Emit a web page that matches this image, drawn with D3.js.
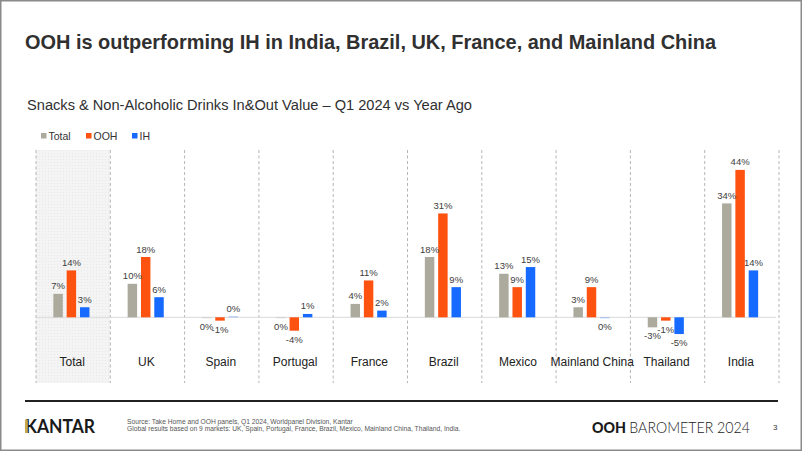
<!DOCTYPE html>
<html><head><meta charset="utf-8">
<script src="https://cdn.jsdelivr.net/npm/d3@7"></script>
<style>
html,body{margin:0;padding:0;background:#fff;}
svg{display:block;font-family:"Liberation Sans",Arial,sans-serif;}
</style></head>
<body>
<svg id="c" width="802" height="451"></svg>
<script>
const categories = ["Total","UK","Spain","Portugal","France","Brazil","Mexico","Mainland China","Thailand","India"];
const seriesNames = ["Total","OOH","IH"];
const totalValues = [7, 10, -0.3, -0.3, 4, 18, 13, 3, -3, 34];
const oohValues   = [14, 18, -1, -4, 11, 31, 9, 9, -1, 44];
const ihValues    = [3, 6, 0.3, 1, 2, 9, 15, -0.3, -5, 14];
const labelTotal = ["7%","10%","0%","0%","4%","18%","13%","3%","-3%","34%"];
const labelOOH   = ["14%","18%","-1%","-4%","11%","31%","9%","9%","-1%","44%"];
const labelIH    = ["3%","6%","0%","1%","2%","9%","15%","0%","-5%","14%"];
const colors = {"Total":"#abaa9d","OOH":"#fe5210","IH":"#176aff"};

const svg = d3.select("#c");
svg.append("rect").attr("x",0.75).attr("y",0.75).attr("width",800.5).attr("height",449.5)
  .attr("fill","#fff").attr("stroke","#8a8a8a").attr("stroke-width",1.5);

svg.append("text").attr("x",25).attr("y",49).attr("font-size",20.5).attr("font-weight","bold")
  .attr("fill","#303030").attr("textLength",691).attr("lengthAdjust","spacingAndGlyphs")
  .text("OOH is outperforming IH in India, Brazil, UK, France, and Mainland China");
svg.append("text").attr("x",27).attr("y",110).attr("font-size",15.5).attr("fill","#303030")
  .attr("textLength",445).attr("lengthAdjust","spacingAndGlyphs")
  .text("Snacks & Non-Alcoholic Drinks In&Out Value – Q1 2024 vs Year Ago");

const leg = svg.append("g");
const legX = [41, 86, 132];
seriesNames.forEach((s,i)=>{
  leg.append("rect").attr("x",legX[i]).attr("y",133).attr("width",5.5).attr("height",5.5).attr("fill",colors[s]);
  leg.append("text").attr("x",legX[i]+7.5).attr("y",139.5).attr("font-size",10.5).attr("fill","#333").text(s);
});

const x = d3.scaleBand().domain(categories).range([36, 779]).padding(0);
const y = d3.scaleLinear().domain([-10, 50]).range([350.8, 149.8]);
const x1 = d3.scaleBand().domain(seriesNames).range([-19.8, 16.3]).paddingInner(0.29);

const defs = svg.append("defs");
const pat = defs.append("pattern").attr("id","hatch").attr("width",3).attr("height",3).attr("patternUnits","userSpaceOnUse");
pat.append("rect").attr("width",3).attr("height",3).attr("fill","#f4f4f4");
pat.append("rect").attr("width",1).attr("height",1).attr("fill","#e8e8e8");

svg.append("rect").attr("x",x("Total")).attr("y",150).attr("width",x.bandwidth()).attr("height",233).attr("fill","url(#hatch)");

const edges = categories.map(c=>x(c)).concat([x(categories[categories.length-1])+x.bandwidth()]);
svg.append("g").selectAll("line").data(edges).join("line")
  .attr("x1",d=>d).attr("x2",d=>d).attr("y1",150).attr("y2",383)
  .attr("stroke","#b5b5b5").attr("stroke-width",1).attr("stroke-dasharray","3,2.5");

svg.append("line").attr("x1",36).attr("x2",776).attr("y1",y(0)).attr("y2",y(0))
  .attr("stroke","#d9d9d9").attr("stroke-width",1);

const data = categories.map((c,i)=>({cat:c, vals:[
  {s:"Total", v:totalValues[i], l:labelTotal[i]},
  {s:"OOH", v:oohValues[i], l:labelOOH[i]},
  {s:"IH", v:ihValues[i], l:labelIH[i]}]}));

const g = svg.append("g").selectAll("g").data(data).join("g")
  .attr("transform",d=>`translate(${x(d.cat)+x.bandwidth()/2},0)`);

g.selectAll("rect").data(d=>d.vals).join("rect")
  .attr("x",d=>x1(d.s)).attr("width",x1.bandwidth())
  .attr("y",d=>y(Math.max(0,d.v))).attr("height",d=>Math.max(1,Math.abs(y(d.v)-y(0))))
  .attr("fill",d=>colors[d.s])
  .attr("opacity",d=>Math.abs(d.v)<0.5?0.35:1);

g.selectAll("text.v").data(d=>d.vals).join("text").attr("class","v")
  .attr("x",d=>x1(d.s)+x1.bandwidth()/2)
  .attr("y",d=> d.v>=0 ? y(d.v)-4.5 : y(d.v)+12)
  .attr("text-anchor","middle").attr("font-size",9.5).attr("fill","#404040").text(d=>d.l);

g.append("text").attr("x",-1).attr("y",366).attr("text-anchor","middle")
  .attr("font-size",12).attr("fill","#222").text(d=>d.cat);

// footer
svg.append("line").attr("x1",25).attr("x2",778).attr("y1",401).attr("y2",401).attr("stroke","#222").attr("stroke-width",2);
svg.append("text").attr("x",25).attr("y",433).attr("font-size",18.5).attr("font-weight","bold")
  .attr("font-family","Lato, 'Liberation Sans', sans-serif")
  .attr("fill","#1a1a1a").attr("textLength",70).attr("lengthAdjust","spacingAndGlyphs").text("KANTAR");
svg.append("rect").attr("x",25).attr("y",419.5).attr("width",2.8).attr("height",13.5).attr("fill","#c9a74a");
svg.append("text").attr("x",127).attr("y",423.5).attr("font-size",6.7).attr("fill","#555").text("Source: Take Home and OOH panels, Q1 2024, Worldpanel Division, Kantar");
svg.append("text").attr("x",127).attr("y",431).attr("font-size",6.7).attr("fill","#555").text("Global results based on 9 markets: UK, Spain, Portugal, France, Brazil, Mexico, Mainland China, Thailand, India.");
const ob = svg.append("text").attr("x",592).attr("y",433).attr("font-size",15.5)
  .attr("font-family","Lato, 'Open Sans', sans-serif").attr("fill","#1a1a1a")
  .attr("textLength",158).attr("lengthAdjust","spacingAndGlyphs");
ob.append("tspan").attr("font-weight","900").text("OOH ");
ob.append("tspan").attr("font-weight","300").text("BAROMETER 2024");
svg.append("text").attr("x",773).attr("y",430).attr("font-size",8).attr("fill","#333").text("3");
</script>
</body></html>
